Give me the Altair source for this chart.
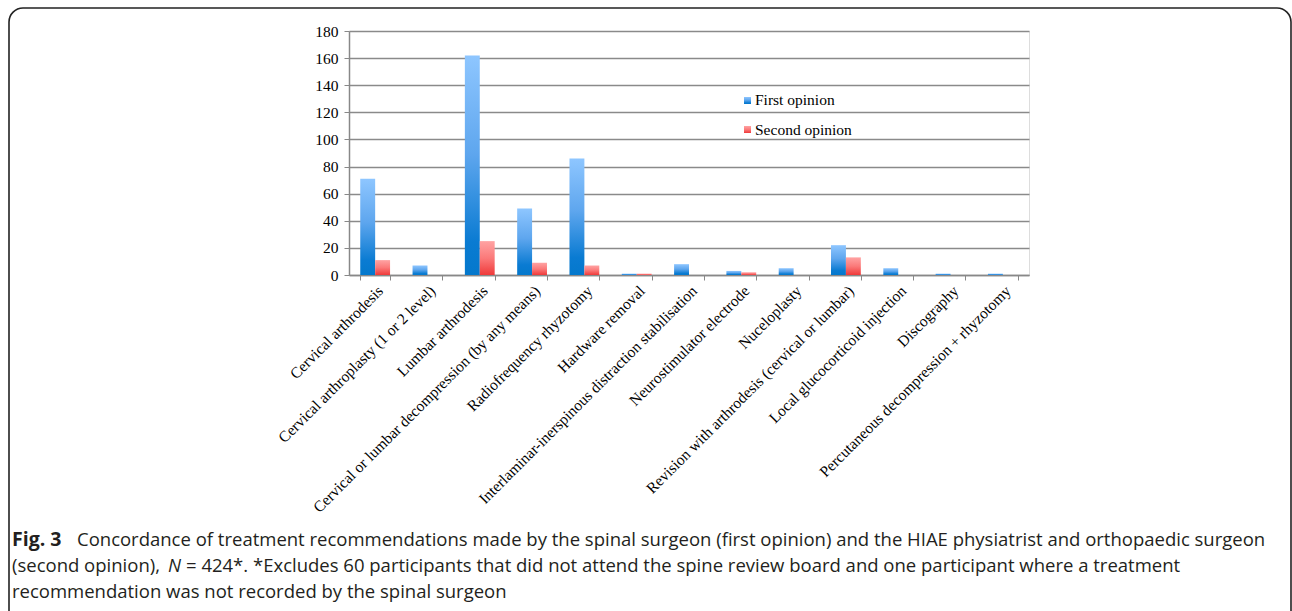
import altair as alt
import pandas as pd

categories = [
    "Cervical arthrodesis",
    "Cervical arthroplasty (1 or 2 level)",
    "Lumbar arthrodesis",
    "Cervical or lumbar decompression (by any means)",
    "Radiofrequency rhyzotomy",
    "Hardware removal",
    "Interlaminar-inerspinous distraction stabilisation",
    "Neurostimulator electrode",
    "Nuceloplasty",
    "Revision with arthrodesis (cervical or lumbar)",
    "Local glucocorticoid injection",
    "Discography",
    "Percutaneous decompression + rhyzotomy",
]
first_opinion = [71, 7, 162, 49, 86, 1, 8, 3, 5, 22, 5, 1, 1]
second_opinion = [11, 0, 25, 9, 7, 1, 0, 2, 0, 13, 0, 0, 0]
series_names = ["First opinion", "Second opinion"]
y_ticks = [0, 20, 40, 60, 80, 100, 120, 140, 160, 180]

caption_bold = "Fig. 3"
caption_line1 = "Concordance of treatment recommendations made by the spinal surgeon (first opinion) and the HIAE physiatrist and orthopaedic surgeon"
caption_line2a = "(second opinion),"
caption_line2n = "N"
caption_line2b = "= 424*. *Excludes 60 participants that did not attend the spine review board and one participant where a treatment"
caption_line3 = "recommendation was not recorded by the spinal surgeon"

rows = []
for c, a, b in zip(categories, first_opinion, second_opinion):
    rows.append({"category": c, "series": series_names[0], "value": a})
    rows.append({"category": c, "series": series_names[1], "value": b})
df = pd.DataFrame(rows)

W, H = 680, 244
LEFT, TOP = 349, 31

blue_grad = alt.Gradient(
    gradient="linear",
    stops=[
        alt.GradientStop(color="#8ec6ff", offset=0),
        alt.GradientStop(color="#5ea6ee", offset=0.45),
        alt.GradientStop(color="#0a7bd2", offset=0.85),
        alt.GradientStop(color="#0478cc", offset=1),
    ],
    x1=0, x2=0, y1=0, y2=1,
)
red_grad = alt.Gradient(
    gradient="linear",
    stops=[
        alt.GradientStop(color="#ffa3a3", offset=0),
        alt.GradientStop(color="#fb7a7a", offset=0.5),
        alt.GradientStop(color="#ef3a3a", offset=1),
    ],
    x1=0, x2=0, y1=0, y2=1,
)

xscale = alt.Scale(domain=categories, paddingInner=0.43, paddingOuter=0.215)
yscale = alt.Scale(domain=[0, 180])
xoff = alt.XOffset("series:N", scale=alt.Scale(domain=series_names, paddingInner=0, paddingOuter=0))

x_axis = alt.Axis(
    title=None, labelAngle=-45, labelAlign="right", labelBaseline="top",
    labelFont="Liberation Serif", labelFontSize=15.5, labelColor="#000",
    labelLimit=0, labelPadding=3, tickBand="extent", tickSize=5,
    tickColor="#888", domainColor="#888", domainWidth=1.5, labelOverlap=False,
)
y_axis = alt.Axis(
    title=None, values=y_ticks, labelFont="Liberation Serif", labelFontSize=15.5,
    labelColor="#000", tickSize=5, tickColor="#888", domainColor="#888",
    domainWidth=1.5, gridColor="#8a8a8a", gridWidth=1.3, labelPadding=6,
)

base = alt.Chart(df)
bars_first = base.transform_filter(alt.datum.series == series_names[0]).mark_bar(
    color=blue_grad
).encode(
    x=alt.X("category:N", scale=xscale, axis=x_axis, sort=categories),
    xOffset=xoff,
    y=alt.Y("value:Q", scale=yscale, axis=y_axis),
)
bars_second = base.transform_filter(alt.datum.series == series_names[1]).mark_bar(
    color=red_grad
).encode(
    x=alt.X("category:N", scale=xscale, axis=x_axis, sort=categories),
    xOffset=xoff,
    y=alt.Y("value:Q", scale=yscale, axis=y_axis),
)

one = alt.Data(values=[{"k": 1}])


def px(x):
    return alt.value(x - LEFT)


def py(y):
    return alt.value(y - TOP)


border = alt.Chart(one).mark_rect(
    fillOpacity=0, stroke="#222", strokeWidth=1.6, cornerRadius=14
).encode(x=px(9), x2=px(1291), y=py(8), y2=py(650))

leg_sw1 = alt.Chart(one).mark_rect(color=blue_grad).encode(
    x=px(744), x2=px(751), y=py(97), y2=py(104))
leg_sw2 = alt.Chart(one).mark_rect(color=red_grad).encode(
    x=px(744), x2=px(751), y=py(126), y2=py(133))
leg_kw = dict(align="left", baseline="middle", font="Liberation Serif", fontSize=15.5, color="#000")
leg_t1 = alt.Chart(one).mark_text(**leg_kw).encode(
    x=px(755), y=py(100), text=alt.value(series_names[0]))
leg_t2 = alt.Chart(one).mark_text(**leg_kw).encode(
    x=px(755), y=py(130), text=alt.value(series_names[1]))

cap_font = "Open Sans"
cap_size = 18.5
cap_kw = dict(align="left", baseline="middle", font=cap_font, color="#231f20")
cap_b = alt.Chart(one).mark_text(fontWeight="bold", fontSize=19.5, **cap_kw).encode(
    x=px(12), y=py(540), text=alt.value(caption_bold))
cap_1 = alt.Chart(one).mark_text(fontSize=cap_size, **cap_kw).encode(
    x=px(77), y=py(540), text=alt.value(caption_line1))
cap_2a = alt.Chart(one).mark_text(fontSize=cap_size, **cap_kw).encode(
    x=px(12), y=py(566), text=alt.value(caption_line2a))
cap_2n = alt.Chart(one).mark_text(fontStyle="italic", fontSize=cap_size, **cap_kw).encode(
    x=px(168), y=py(566), text=alt.value(caption_line2n))
cap_2b = alt.Chart(one).mark_text(fontSize=cap_size, **cap_kw).encode(
    x=px(186), y=py(566), text=alt.value(caption_line2b))
cap_3 = alt.Chart(one).mark_text(fontSize=cap_size, **cap_kw).encode(
    x=px(12), y=py(592), text=alt.value(caption_line3))

chart = alt.layer(
    border, bars_first, bars_second, leg_sw1, leg_sw2, leg_t1, leg_t2,
    cap_b, cap_1, cap_2a, cap_2n, cap_2b, cap_3,
).properties(
    width=W, height=H,
    autosize=alt.AutoSizeParams(type="none"),
    padding={"left": LEFT, "top": TOP, "right": 1292 - LEFT - W, "bottom": 611 - TOP - H},
).configure_view(stroke=None).configure(background="white")

chart.save("out.html", embed_options={"renderer": "svg", "actions": False})
